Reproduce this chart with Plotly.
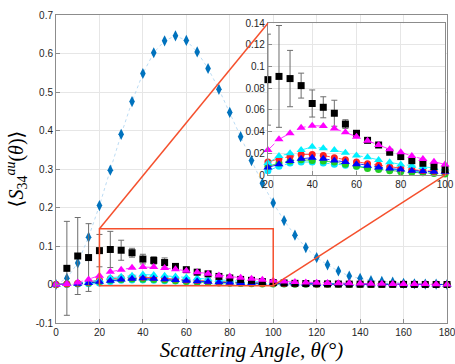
import plotly.graph_objects as go

# ---------------- data ----------------
angles = list(range(0, 181, 5))

blue_diamond = [0.0, 0.016, 0.056, 0.123, 0.205, 0.297, 0.390, 0.475, 0.548, 0.602,
                0.633, 0.646, 0.634, 0.604, 0.561, 0.507, 0.447, 0.384, 0.322, 0.263,
                0.212, 0.166, 0.128, 0.096, 0.070, 0.051, 0.035, 0.022, 0.016, 0.010,
                0.008, 0.006, 0.003, 0.002, 0.001, 0.001, 0.0]

black_angles = list(range(5, 181, 5))
black_square = [0.042, 0.074, 0.070, 0.088, 0.091, 0.089, 0.0825, 0.066, 0.0625, 0.057,
                0.047, 0.0385, 0.032, 0.0277, 0.021, 0.017, 0.0132, 0.0108, 0.0077, 0.005,
                0.004, 0.003, 0.0025, 0.002, 0.0015, 0.0012, 0.001, 0.0008, 0.0006, 0.0005,
                0.0004, 0.0003, 0.0002, 0.0001, 0.0001, 0.0]
black_err = [0.122, 0.100, 0.088, 0.042, 0.047, 0.026, 0.0115, 0.0125, 0.0097, 0.012,
             0.004, 0.002, 0.0015, 0.001, 0.001, 0.001, 0.001, 0.001, 0.001, 0.001,
             0.0, 0.0, 0.0, 0.0, 0.0, 0.0, 0.0, 0.0, 0.0, 0.0,
             0.0, 0.0, 0.0, 0.0, 0.0, 0.0]

magenta_tri = [0.0, 0.001, 0.005, 0.013, 0.023, 0.033, 0.0385, 0.0437, 0.0455, 0.0452,
               0.043, 0.0394, 0.0354, 0.0317, 0.0277, 0.0237, 0.021, 0.0175, 0.0148, 0.0123,
               0.0098, 0.008, 0.0065, 0.0055, 0.0045, 0.004, 0.0035, 0.003, 0.0025, 0.002,
               0.002, 0.0015, 0.0015, 0.001, 0.001, 0.0005, 0.0]

cyan_tri = [0.0, 0.001, 0.003, 0.007, 0.011, 0.0175, 0.020, 0.023, 0.026, 0.0246,
            0.023, 0.0206, 0.018, 0.0163, 0.0138, 0.0117, 0.0098, 0.0085, 0.0075, 0.0065,
            0.006, 0.005, 0.004, 0.0035, 0.003, 0.0025, 0.002, 0.002, 0.0015, 0.0015,
            0.001, 0.001, 0.001, 0.0005, 0.0005, 0.0005, 0.0]

red_circle = [0.0, 0.001, 0.003, 0.006, 0.012, 0.015, 0.017, 0.019, 0.019, 0.018,
              0.016, 0.014, 0.012, 0.0105, 0.009, 0.0075, 0.006, 0.005, 0.004, 0.0035,
              0.003, 0.0025, 0.002, 0.002, 0.0015, 0.0015, 0.001, 0.001, 0.001, 0.0008,
              0.0006, 0.0005, 0.0004, 0.0003, 0.0002, 0.0001, 0.0]

green_circle = [0.0, 0.001, 0.002, 0.004, 0.008, 0.011, 0.013, 0.014, 0.0135, 0.013,
                0.012, 0.010, 0.008, 0.006, 0.005, 0.004, 0.003, 0.0025, 0.002, 0.0015,
                0.001, 0.001, 0.0008, 0.0007, 0.0006, 0.0005, 0.0004, 0.0003, 0.0003, 0.0002,
                0.0002, 0.0001, 0.0001, 0.0001, 0.0, 0.0, 0.0]

blue_tri = [0.0, 0.001, 0.002, 0.004, 0.007, 0.010, 0.013, 0.015, 0.016, 0.015,
            0.0135, 0.012, 0.010, 0.0085, 0.007, 0.006, 0.005, 0.004, 0.0035, 0.003,
            0.003, 0.0025, 0.002, 0.002, 0.0015, 0.0012, 0.001, 0.001, 0.0008, 0.0006,
            0.0005, 0.0004, 0.0003, 0.0002, 0.0001, 0.0001, 0.0]

cyan_circle = [0.0, 0.0, 0.001, 0.002, 0.004, 0.008, 0.011, 0.012, 0.012, 0.011,
               0.010, 0.009, 0.008, 0.007, 0.006, 0.005, 0.004, 0.0035, 0.003, 0.0025,
               0.002, 0.002, 0.0015, 0.0012, 0.001, 0.001, 0.0008, 0.0006, 0.0005, 0.0004,
               0.0003, 0.0002, 0.0002, 0.0001, 0.0, 0.0, 0.0]

main_yticks = [-0.1, 0, 0.1, 0.2, 0.3, 0.4, 0.5, 0.6, 0.7]
main_yticklabels = ["-0.1", "0", "0.1", "0.2", "0.3", "0.4", "0.5", "0.6", "0.7"]
main_xticks = [0, 20, 40, 60, 80, 100, 120, 140, 160, 180]
inset_yticks = [0, 0.02, 0.04, 0.06, 0.08, 0.1, 0.12, 0.14]
inset_yticklabels = ["0", "0.02", "0.04", "0.06", "0.08", "0.1", "0.12", "0.14"]
inset_xticks = [20, 40, 60, 80, 100]

zoom_box = dict(x0=20, x1=100, y0=-0.003, y1=0.145)

# ---------------- styling ----------------
INSET_X = [0.542, 0.995]
INSET_Y = [0.4805, 0.973]
MAIN_XR = [0, 180]
MAIN_YR = [-0.1, 0.7]
RED = "#f5502d"
TICKFONT = dict(family="Liberation Sans, Arial, sans-serif", size=10, color="#262626")

series = [
    ("cyan_circle", angles, cyan_circle, "circle", "#00e5ff", "dash", 7),
    ("green_circle", angles, green_circle, "circle", "#22cc22", "dash", 7),
    ("red_circle", angles, red_circle, "circle", "#ff2020", "dash", 7),
    ("cyan_tri", angles, cyan_tri, "triangle-up", "#00f0ff", "dash", 8),
    ("blue_tri", angles, blue_tri, "triangle-up", "#0000ff", "dash", 8),
]

fig = go.Figure()


def select(xa, ya, lo, hi):
    sx = [a for a in xa if lo <= a <= hi]
    sy = [v for a, v in zip(xa, ya) if lo <= a <= hi]
    return sx, sy


for sub, (xax, yax, lo, hi) in enumerate([("x", "y", 0, 180), ("x2", "y2", 20, 100)]):
    if sub == 0:
        fig.add_trace(go.Scatter(
            x=angles, y=blue_diamond, mode="lines+markers", xaxis=xax, yaxis=yax,
            line=dict(color="#a9d2f0", width=0.8, dash="dot"),
            marker=dict(symbol="diamond-tall", size=8, color="#0072bd"),
            cliponaxis=False, showlegend=False))
    for name, xa, ya, sym, col, dash, size in series:
        sx, sy = select(xa, ya, lo, hi)
        fig.add_trace(go.Scatter(
            x=sx, y=sy, mode="lines+markers", xaxis=xax, yaxis=yax,
            line=dict(color=col, width=0.8, dash=dash),
            marker=dict(symbol=sym, size=size, color=col),
            cliponaxis=False, showlegend=False))
    bx = [a for a in black_angles if lo <= a <= hi]
    by = [v for a, v in zip(black_angles, black_square) if lo <= a <= hi]
    be = [e for a, e in zip(black_angles, black_err) if lo <= a <= hi]
    fig.add_trace(go.Scatter(
        x=bx, y=by, mode="markers", xaxis=xax, yaxis=yax,
        marker=dict(symbol="square", size=7, color="black"),
        error_y=dict(type="data", array=be, color="#6e6e6e", thickness=1, width=3),
        cliponaxis=False, showlegend=False))
    mx, my = select(angles, magenta_tri, lo, hi)
    fig.add_trace(go.Scatter(
        x=mx, y=my, mode="lines+markers", xaxis=xax, yaxis=yax,
        line=dict(color="#ff00ff", width=0.8, dash="dash"),
        marker=dict(symbol="triangle-up", size=8, color="#ff00ff"),
        cliponaxis=False, showlegend=False))

axis_common = dict(showgrid=True, gridcolor="#e6e6e6", gridwidth=1,
                   showline=True, linecolor="#8c8c8c", linewidth=1, mirror=True,
                   ticks="inside", ticklen=4, tickcolor="#8c8c8c",
                   tickfont=TICKFONT, zeroline=False, automargin=False,
                   ticklabeloverflow="allow")

fig.update_layout(
    width=455, height=364,
    margin=dict(l=56, r=8, t=15, b=41),
    paper_bgcolor="white", plot_bgcolor="white",
    hovermode=False,
    xaxis=dict(domain=[0, 1], range=MAIN_XR, tickvals=main_xticks, **axis_common,
               title=dict(text="<i>Scattering Angle, θ(°)</i>", standoff=0,
                          font=dict(family="Liberation Serif, DejaVu Serif, serif",
                                    size=21, color="black"))),
    yaxis=dict(domain=[0, 1], range=MAIN_YR, tickvals=main_yticks,
               ticktext=main_yticklabels, **axis_common,
               title=dict(text="⟨<i>S</i><sub>34</sub><sup><i>au</i></sup>(<i>θ</i>)⟩", standoff=6,
                          font=dict(family="Liberation Serif, DejaVu Serif, serif",
                                    size=20, color="black"))),
    xaxis2=dict(domain=INSET_X, range=[20, 100], tickvals=inset_xticks, anchor="y2",
                **axis_common),
    yaxis2=dict(domain=INSET_Y, range=[0, 0.14], tickvals=inset_yticks,
                ticktext=inset_yticklabels, anchor="x2", **axis_common),
)

# opaque inset background
fig.add_shape(type="rect", xref="x2 domain", yref="y2 domain", x0=0, x1=1, y0=0, y1=1,
              fillcolor="white", line=dict(width=0), layer="below")

# zoom box and connector lines
fig.add_shape(type="rect", xref="x", yref="y", x0=zoom_box["x0"], x1=zoom_box["x1"],
              y0=zoom_box["y0"], y1=zoom_box["y1"], line=dict(color=RED, width=1.5),
              layer="above")

inset_left = MAIN_XR[0] + INSET_X[0] * (MAIN_XR[1] - MAIN_XR[0])
inset_right = MAIN_XR[0] + INSET_X[1] * (MAIN_XR[1] - MAIN_XR[0])
inset_bottom = MAIN_YR[0] + INSET_Y[0] * (MAIN_YR[1] - MAIN_YR[0])
inset_top = MAIN_YR[0] + INSET_Y[1] * (MAIN_YR[1] - MAIN_YR[0])

fig.add_shape(type="line", xref="x", yref="y", x0=zoom_box["x0"], y0=zoom_box["y1"],
              x1=inset_left, y1=inset_top, line=dict(color=RED, width=1.5), layer="above")
fig.add_shape(type="line", xref="x", yref="y", x0=zoom_box["x1"], y0=zoom_box["y0"],
              x1=inset_right, y1=inset_bottom, line=dict(color=RED, width=1.5), layer="above")

# remove the browser's default page margin so the figure fills the window exactly
fig.write_html("out.html",
               config={"displayModeBar": False, "staticPlot": True},
               post_script="document.body.style.margin='0';"
                           "document.documentElement.style.overflow='hidden';")
